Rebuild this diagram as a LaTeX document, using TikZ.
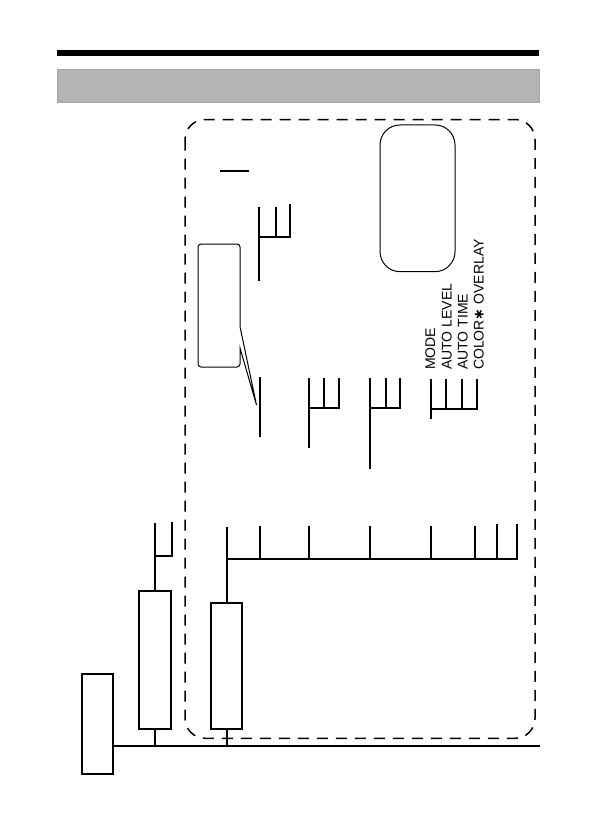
\documentclass[tikz,border=0pt]{standalone}
\usepackage{fontspec}
\setmainfont{Liberation Sans}
\newfontfamily\dejavu{DejaVu Sans}
\definecolor{bargray}{RGB}{180,180,180}
\definecolor{baredge}{RGB}{165,165,165}
\begin{document}
\begin{tikzpicture}[x=1pt,y=-1pt,
  thickline/.style={line width=2pt},
  thinline/.style={line width=1pt},
  boxnode/.style={draw, line width=2pt, minimum width=31.6pt, inner sep=0pt, outer sep=0pt},
  dashframe/.style={line width=1.5pt, dash pattern=on 11pt off 8pt, rounded corners=20pt},
  menutext/.style={rotate=90, anchor=base west, inner sep=0pt, font=\fontsize{14}{16}\selectfont}]
\useasboundingbox (0,0) rectangle (597,839);

% header bars
\fill[black] (57,50) rectangle (539,56);
\fill[bargray, draw=baredge, line width=0.8pt] (57,69.3) rectangle (539,102.3);

% dashed frame
\draw[dashframe] (185,119.5) rectangle (535,738.3);

% display box top right
\node[draw, thinline, rounded corners=20pt, minimum width=75pt, minimum height=146.7pt, inner sep=0pt] (disp) at (417.5,198.3) {};

% small line
\coordinate (s1) at (220,170.7);
\coordinate (s2) at (249,170.7);
\draw[thickline] (s1) -- (s2);

% top fork
\coordinate (fT) at (259,206.7);
\draw[thickline] (fT) -- (259,280.7);
\draw[thickline] (259,236.7) -- (290,236.7) -- (290,204);
\draw[thickline] (275.7,206.7) -- (275.7,236.7);

% callout box
\draw[thinline] (240,326.7) -- (256.5,405) -- (240,348) [rounded corners=3pt] -- (240,367) -- (198,367) -- (198,244) -- (240,244) -- (240,326.7);

% vertical near callout
\draw[thickline] (260,376.7) -- (260,437.3);

% fork A
\draw[thickline] (309,378.3) -- (309,447.7);
\draw[thickline] (309,407.7) -- (339.3,407.7) -- (339.3,378.3);
\draw[thickline] (324,378.3) -- (324,407.7);

% fork B
\draw[thickline] (370,378.3) -- (370,469.3);
\draw[thickline] (370,407.7) -- (400,407.7) -- (400,378.3);
\draw[thickline] (385.7,378.3) -- (385.7,407.7);

% fork C
\draw[thickline] (431,379) -- (431,419.3);
\draw[thickline] (431,408.5) -- (477,408.5) -- (477,379);
\draw[thickline] (446,379) -- (446,408.5);
\draw[thickline] (462.3,379) -- (462.3,408.5);

% menu texts
\node[menutext] (t1) at (435,370) {MODE};
\node[menutext] (t2) at (451.5,370) {AUTO LEVEL};
\node[menutext] (t3) at (467.5,370) {AUTO TIME};
\node[menutext] (t4) at (483.5,370) {COLOR{\dejavu\bfseries ∗} OVERLAY};

% lower boxes
\node[boxnode, minimum height=100.3pt] (b1) at (97.5,723.8) {};
\node[boxnode, minimum height=138pt] (b2) at (155.2,660) {};
\node[boxnode, minimum height=125.7pt] (b3) at (226.5,666.2) {};

% main line
\coordinate (mainR) at (540,745.7);
\draw[thickline] (b1.east |- mainR) -- (mainR);
\draw[thickline] (b2.south) -- (b2.south |- mainR);
\draw[thickline] (b3.south) -- (b3.south |- mainR);

% box2 upper fork
\draw[thickline] (b2.north) -- (155.2,523.3);
\draw[thickline] (155.2,556) -- (171.7,556) -- (171.7,522.3);

% box3 bus
\coordinate (busR) at (516.7,559);
\draw[thickline] (b3.north) -- (226.5,527.3);
\draw[thickline] (226.5,559) -- (busR) -- (516.7,524.3);
\foreach \xx in {260,309,370,431,475} {
  \draw[thickline] (\xx,559) -- (\xx,526);
}
\draw[thickline] (496.7,559) -- (496.7,524.3);
\end{tikzpicture}
\end{document}
